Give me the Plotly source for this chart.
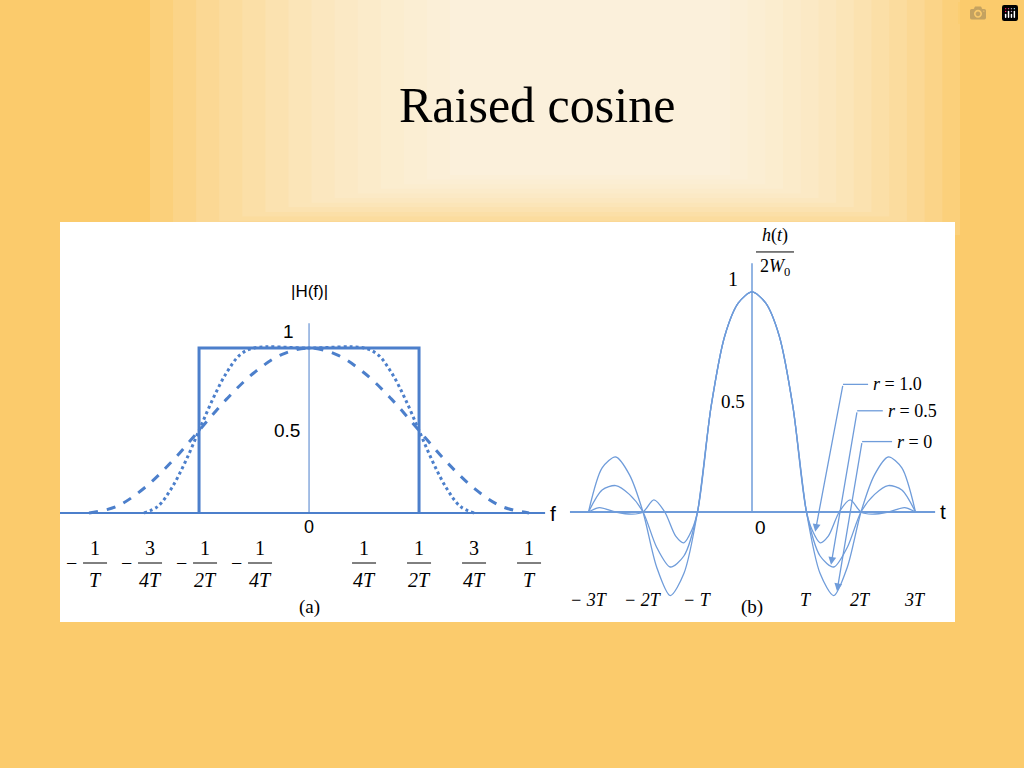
import plotly.graph_objects as go

# ---------- data ----------
# Left: |H(f)|, f in units of 1/T
f_r1 = [-1, -0.875, -0.75, -0.625, -0.5, -0.375, -0.25, -0.125, 0, 0.125, 0.25, 0.375, 0.5, 0.625, 0.75, 0.875, 1]
H_r1 = [0, 0.04, 0.15, 0.31, 0.5, 0.69, 0.85, 0.96, 1, 0.96, 0.85, 0.69, 0.5, 0.31, 0.15, 0.04, 0]
f_r05 = [-0.75, -0.6875, -0.625, -0.5625, -0.5, -0.4375, -0.375, -0.3125, -0.25, 0, 0.25, 0.3125, 0.375, 0.4375, 0.5, 0.5625, 0.625, 0.6875, 0.75]
H_r05 = [0, 0.04, 0.15, 0.31, 0.5, 0.69, 0.85, 0.96, 1, 1, 1, 0.96, 0.85, 0.69, 0.5, 0.31, 0.15, 0.04, 0]
f_r0 = [-0.5, -0.5, 0.5, 0.5]
H_r0 = [0, 1, 1, 0]

# Right: h(t)/2W0, t in units of T
t_r0 = [-3, -2.75, -2.5, -2.25, -2, -1.75, -1.5, -1.25, -1, -0.75, -0.5, -0.25, 0, 0.25, 0.5, 0.75, 1, 1.25, 1.5, 1.75, 2, 2.25, 2.5, 2.75, 3]
h_r0 = [0, 0.2, 0.25, 0.17, 0, -0.25, -0.38, -0.28, 0, 0.48, 0.8, 0.95, 1, 0.95, 0.8, 0.48, 0, -0.28, -0.38, -0.25, 0, 0.17, 0.25, 0.2, 0]
t_r05 = t_r0
h_r05 = [0, 0.1, 0.12, 0.08, 0, -0.16, -0.25, -0.2, 0, 0.48, 0.8, 0.95, 1, 0.95, 0.8, 0.48, 0, -0.2, -0.25, -0.16, 0, 0.08, 0.12, 0.1, 0]
t_r1 = [-3, -2.8, -2.5, -2.2, -2, -1.8, -1.6, -1.4, -1.25, -1.1, -1, -0.75, -0.5, -0.25, 0, 0.25, 0.5, 0.75, 1, 1.1, 1.25, 1.4, 1.6, 1.8, 2, 2.2, 2.5, 2.8, 3]
h_r1 = [0, 0.02, 0.0, -0.01, 0, 0.055, 0.0, -0.11, -0.14, -0.08, 0, 0.48, 0.8, 0.95, 1, 0.95, 0.8, 0.48, 0, -0.08, -0.14, -0.11, 0.0, 0.055, 0, -0.01, 0.0, 0.02, 0]

left_ticks = [-1, -0.75, -0.5, -0.25, 0.25, 0.5, 0.75, 1]
left_num = ["1", "3", "1", "1", "1", "1", "3", "1"]
left_den = ["T", "4T", "2T", "4T", "4T", "2T", "4T", "T"]
right_ticks = [-3, -2, -1, 1, 2, 3]
right_labels = ["− 3T", "− 2T", "− T", "T", "2T", "3T"]
r_labels = ["1.0", "0.5", "0"]
r_tips_t = [1.16, 1.45, 1.56]
r_tips_h = [-0.09, -0.24, -0.36]
r_corner_t = [1.67, 1.93, 2.02]
r_corner_h = [0.58, 0.46, 0.32]
r_end_t = [2.13, 2.40, 2.57]

# ---------- styling ----------
BL = "#4C7FCB"
BL2 = "#6F9CDA"
SERIF = "Liberation Serif"
SANS = "Liberation Sans"

fig = go.Figure()
fig.add_trace(go.Scatter(x=f_r1, y=H_r1, mode="lines", line=dict(color=BL, width=3, dash="dash", shape="spline"), xaxis="x", yaxis="y"))
fig.add_trace(go.Scatter(x=f_r05, y=H_r05, mode="lines", line=dict(color=BL, width=3, dash="dot", shape="spline"), xaxis="x", yaxis="y"))
fig.add_trace(go.Scatter(x=f_r0, y=H_r0, mode="lines", line=dict(color=BL, width=3), xaxis="x", yaxis="y"))
for tt, hh in [(t_r0, h_r0), (t_r05, h_r05), (t_r1, h_r1)]:
    fig.add_trace(go.Scatter(x=tt, y=hh, mode="lines", line=dict(color=BL2, width=1.3, shape="spline", smoothing=0.8), xaxis="x2", yaxis="y2"))

shapes = []
# background glow (soft layered)
n = 14
for i in range(n):
    k = i / (n - 1)
    x0 = 150 + k * 300
    x1 = 960 - k * 230
    y1 = 235 - k * 60
    shapes.append(dict(type="rect", xref="paper", yref="paper", x0=x0/1024, x1=x1/1024, y0=1-y1/768, y1=1,
                       fillcolor="rgba(255,255,255,0.1)", line=dict(width=0), layer="below"))
shapes.append(dict(type="rect", xref="paper", yref="paper", x0=60/1024, x1=955/1024, y0=1-622/768, y1=1-222/768,
                   fillcolor="white", line=dict(width=0), layer="below"))
shapes += [
    dict(type="line", xref="x", yref="y", x0=-1.132, x1=1.073, y0=0, y1=0, line=dict(color=BL, width=2)),
    dict(type="line", xref="x", yref="y", x0=0, x1=0, y0=0, y1=1.15, line=dict(color=BL, width=1)),
    dict(type="line", xref="x2", yref="y2", x0=-3.34, x1=3.36, y0=0, y1=0, line=dict(color=BL2, width=2)),
    dict(type="line", xref="x2", yref="y2", x0=0, x1=0, y0=0, y1=1.13, line=dict(color=BL2, width=1.5)),
]
ann = []
half = 12/220
for v, nn, d in zip(left_ticks, left_num, left_den):
    c = v + (6/220 if v < 0 else 0)
    shapes.append(dict(type="line", xref="x", yref="y", x0=c-half, x1=c+half, y0=-50/165, y1=-50/165, line=dict(color="black", width=1)))
    ann.append(dict(x=c, y=-35/165, xref="x", yref="y", text=nn, showarrow=False, font=dict(family=SERIF, size=20, color="black")))
    ann.append(dict(x=c, y=-67/165, xref="x", yref="y", text=f"<i>{d}</i>", showarrow=False, font=dict(family=SERIF, size=20, color="black")))
    if v < 0:
        ann.append(dict(x=c, y=-50/165, xref="x", yref="y", xshift=-24, text="−", showarrow=False, font=dict(family=SERIF, size=20, color="black")))
ann += [
    dict(x=0, y=-14/165, xref="x", yref="y", text="0", showarrow=False, font=dict(family=SANS, size=18, color="black")),
    dict(x=-22/220, y=0.5, xref="x", yref="y", text="0.5", showarrow=False, font=dict(family=SANS, size=19, color="black")),
    dict(x=-21/220, y=1.1, xref="x", yref="y", text="1", showarrow=False, font=dict(family=SANS, size=19, color="black")),
    dict(x=0, y=1.34, xref="x", yref="y", text="|H(f)|", showarrow=False, font=dict(family=SANS, size=17, color="black")),
    dict(x=1.11, y=0, xref="x", yref="y", text="f", showarrow=False, font=dict(family=SANS, size=21, color="black")),
    dict(x=0, y=-94/165, xref="x", yref="y", text="(a)", showarrow=False, font=dict(family=SERIF, size=19, color="black")),
]
for v, lab in zip(right_ticks, right_labels):
    ann.append(dict(x=v, y=-88/220, xref="x2", yref="y2", text=f"<i>{lab}</i>", showarrow=False, font=dict(family=SERIF, size=18, color="black")))
ann += [
    dict(x=-19/54.5, y=1.06, xref="x2", yref="y2", text="1", showarrow=False, font=dict(family=SERIF, size=20, color="black")),
    dict(x=-19/54.5, y=0.5, xref="x2", yref="y2", text="0.5", showarrow=False, font=dict(family=SERIF, size=19, color="black")),
    dict(x=8/54.5, y=-16/220, xref="x2", yref="y2", text="0", showarrow=False, font=dict(family=SANS, size=19, color="black")),
    dict(x=191/54.5, y=0, xref="x2", yref="y2", text="t", showarrow=False, font=dict(family=SANS, size=21, color="black")),
    dict(x=0, y=-95/220, xref="x2", yref="y2", text="(b)", showarrow=False, font=dict(family=SERIF, size=19, color="black")),
    dict(x=23/54.5, y=276/220, xref="x2", yref="y2", text="<i>h</i>(<i>t</i>)", showarrow=False, font=dict(family=SERIF, size=18, color="black")),
    dict(x=23/54.5, y=244/220, xref="x2", yref="y2", text="2<i>W</i><sub>0</sub>", showarrow=False, font=dict(family=SERIF, size=18, color="black")),
]
shapes.append(dict(type="line", xref="x2", yref="y2", x0=4/54.5, x1=42/54.5, y0=260/220, y1=260/220, line=dict(color="black", width=1)))
for lab, tt, th, ct, ch, et in zip(r_labels, r_tips_t, r_tips_h, r_corner_t, r_corner_h, r_end_t):
    shapes.append(dict(type="line", xref="x2", yref="y2", x0=ct, x1=et, y0=ch, y1=ch, line=dict(color=BL2, width=1.3)))
    ann.append(dict(x=tt, y=th, ax=ct, ay=ch, xref="x2", yref="y2", axref="x2", ayref="y2", text="", showarrow=True,
                    arrowhead=2, arrowsize=1.2, arrowwidth=1.3, arrowcolor=BL2))
    ann.append(dict(x=et + 0.06, y=ch, xref="x2", yref="y2", text=f"<i>r</i> = {lab}", showarrow=False,
                    xanchor="left", font=dict(family=SERIF, size=18, color="black")))
ann.append(dict(x=537/1024, y=1-75/768, xref="paper", yref="paper", text="Raised cosine", showarrow=False,
                font=dict(family=SERIF, size=50, color="black")))

ax_common = dict(visible=False, showgrid=False, zeroline=False, fixedrange=True)
fig.update_layout(
    width=1024, height=768, margin=dict(l=0, r=0, t=0, b=0),
    paper_bgcolor="#FBCB6C", plot_bgcolor="rgba(0,0,0,0)", showlegend=False,
    xaxis=dict(domain=[60/1024, 555/1024], range=[-1.132, 1.118], **ax_common),
    yaxis=dict(domain=[1-622/768, 1-222/768], range=[-109/165, 291/165], **ax_common),
    xaxis2=dict(domain=[560/1024, 955/1024], range=[-3.523, 3.725], anchor="y2", **ax_common),
    yaxis2=dict(domain=[1-622/768, 1-222/768], range=[-0.5, 1.318], anchor="x2", **ax_common),
    shapes=shapes, annotations=ann,
)
fig.write_html("out.html", post_script="document.body.style.margin='0';document.body.style.overflow='hidden';")
